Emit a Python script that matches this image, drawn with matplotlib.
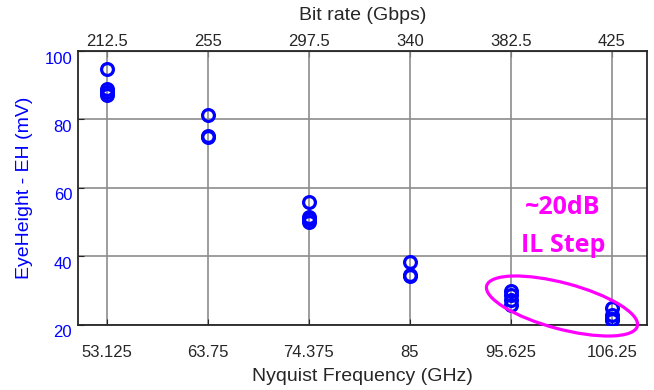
import matplotlib
matplotlib.use("Agg")
import matplotlib.pyplot as plt
from matplotlib.patches import Ellipse
from matplotlib.transforms import ScaledTranslation

# Nyquist frequencies (GHz) and measured eye heights (mV) per frequency
nyquist_ghz = [53.125, 63.75, 74.375, 85, 95.625, 106.25]
eye_height_mv = [
    [94.8, 88.8, 88.0, 87.0],
    [81.3, 75.3, 74.9],
    [55.9, 51.5, 50.8, 49.9],
    [38.3, 34.5, 34.1],
    [30.0, 28.6, 27.2, 25.8],
    [24.9, 22.7, 21.8, 21.4],
]
bit_rate_labels = ["212.5", "255", "297.5", "340", "382.5", "425"]
x_tick_labels = ["53.125", "63.75", "74.375", "85", "95.625", "106.25"]
y_ticks = [20, 40, 60, 80, 100]

plt.rcParams["font.family"] = ["Liberation Sans", "DejaVu Sans"]

fig = plt.figure(figsize=(6.54, 3.90), dpi=100)
ax = fig.add_axes([0.1188, 0.1674, 0.8705, 0.7018])

blue = "#0000ff"
dark = "#262626"
for f, vals in zip(nyquist_ghz, eye_height_mv):
    ax.plot([f] * len(vals), vals, linestyle="none", marker="o",
            markersize=8.5, markerfacecolor="none", markeredgecolor=blue,
            markeredgewidth=2.3, zorder=3)

ax.set_xlim(50.06, 109.94)
ax.set_ylim(20, 100)
ax.set_xticks(nyquist_ghz)
ax.set_xticklabels(x_tick_labels)
ax.set_yticks(y_ticks)
ax.tick_params(axis="x", direction="in", length=4, labelsize=12,
               colors=dark, labelcolor=dark, pad=14.5)
ax.tick_params(axis="y", direction="in", length=4, labelsize=12,
               colors=dark, labelcolor=blue, pad=4)
# y tick labels sit slightly below their grid lines
shift = ScaledTranslation(0, -6.5 / 100, fig.dpi_scale_trans)
for lbl in ax.get_yticklabels():
    lbl.set_transform(lbl.get_transform() + shift)

ax.grid(True, color="#8c8c8c", linewidth=1.2)
for s in ax.spines.values():
    s.set_color(dark)
    s.set_linewidth(1.3)

ax.set_xlabel("Nyquist Frequency (GHz)", fontsize=14, color=dark)
ax.xaxis.label.set_va("center")
ax.xaxis.set_label_coords(0.5, -0.19)
ax.set_ylabel("EyeHeight - EH (mV)", fontsize=14, color=blue)
ax.yaxis.label.set_va("center")
ax.yaxis.set_label_coords(-0.0926, 0.5)

# Secondary axis showing the corresponding bit rate (4x Nyquist)
top = ax.secondary_xaxis("top")
top.set_xticks(nyquist_ghz)
top.set_xticklabels(bit_rate_labels)
top.tick_params(direction="in", length=4, labelsize=12, colors=dark, pad=1.5)
top.set_xlabel("Bit rate (Gbps)", fontsize=14, color=dark)
top.xaxis.label.set_va("center")
top.xaxis.set_label_coords(0.5, 1.1315, transform=ax.transAxes)

# Highlight of the highest-loss cases
magenta = "#ff00ff"
fig.text(562.5 / 654, 1 - 207 / 390, "~20dB", color=magenta, fontsize=18,
         fontweight="bold", family=["Open Sans", "DejaVu Sans"],
         ha="center", va="center")
fig.text(563 / 654, 1 - 245 / 390, "IL Step", color=magenta, fontsize=18,
         fontweight="bold", family=["Open Sans", "DejaVu Sans"],
         ha="center", va="center")
ell = Ellipse((5.62, (390 - 306) / 100), width=1.56, height=0.46, angle=-15,
              transform=fig.dpi_scale_trans, fill=False, edgecolor=magenta,
              linewidth=2.3, zorder=5, clip_on=False)
fig.add_artist(ell)

fig.savefig("out.png", dpi=100)
